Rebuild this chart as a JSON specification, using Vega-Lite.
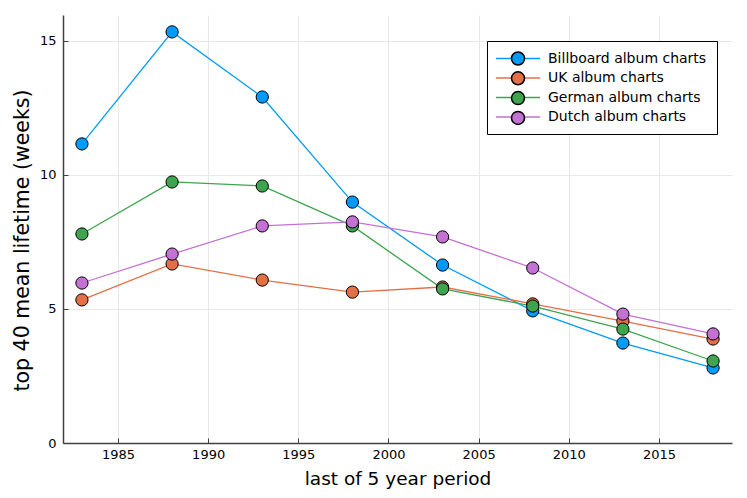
{
  "$schema": "https://vega.github.io/schema/vega-lite/v6.json",
  "width": 669,
  "height": 428,
  "autosize": {"type": "none"},
  "padding": {"left": 63, "top": 15, "right": 15, "bottom": 55},
  "background": "white",
  "config": {
    "view": {"stroke": null},
    "font": "DejaVu Sans",
    "axis": {
      "domainColor": "#404040",
      "domainWidth": 1.5,
      "tickColor": "#404040",
      "tickSize": -5,
      "tickWidth": 1,
      "gridColor": "#e8e8e8",
      "gridWidth": 1,
      "labelColor": "black",
      "labelFont": "DejaVu Sans",
      "labelFontSize": 13,
      "titleColor": "black",
      "titleFont": "DejaVu Sans",
      "titleFontWeight": "normal"
    }
  },
  "data": {
    "values": [
      {"year": 1983, "chart": "Billboard album charts", "weeks": 11.16},
      {"year": 1988, "chart": "Billboard album charts", "weeks": 15.34},
      {"year": 1993, "chart": "Billboard album charts", "weeks": 12.91},
      {"year": 1998, "chart": "Billboard album charts", "weeks": 8.99},
      {"year": 2003, "chart": "Billboard album charts", "weeks": 6.64},
      {"year": 2008, "chart": "Billboard album charts", "weeks": 4.93},
      {"year": 2013, "chart": "Billboard album charts", "weeks": 3.73},
      {"year": 2018, "chart": "Billboard album charts", "weeks": 2.8},
      {"year": 1983, "chart": "UK album charts", "weeks": 5.34},
      {"year": 1988, "chart": "UK album charts", "weeks": 6.68},
      {"year": 1993, "chart": "UK album charts", "weeks": 6.08},
      {"year": 1998, "chart": "UK album charts", "weeks": 5.63},
      {"year": 2003, "chart": "UK album charts", "weeks": 5.82},
      {"year": 2008, "chart": "UK album charts", "weeks": 5.19},
      {"year": 2013, "chart": "UK album charts", "weeks": 4.55},
      {"year": 2018, "chart": "UK album charts", "weeks": 3.88},
      {"year": 1983, "chart": "German album charts", "weeks": 7.8},
      {"year": 1988, "chart": "German album charts", "weeks": 9.74},
      {"year": 1993, "chart": "German album charts", "weeks": 9.59},
      {"year": 1998, "chart": "German album charts", "weeks": 8.1},
      {"year": 2003, "chart": "German album charts", "weeks": 5.75},
      {"year": 2008, "chart": "German album charts", "weeks": 5.11},
      {"year": 2013, "chart": "German album charts", "weeks": 4.25},
      {"year": 2018, "chart": "German album charts", "weeks": 3.06},
      {"year": 1983, "chart": "Dutch album charts", "weeks": 5.97},
      {"year": 1988, "chart": "Dutch album charts", "weeks": 7.05},
      {"year": 1993, "chart": "Dutch album charts", "weeks": 8.1},
      {"year": 1998, "chart": "Dutch album charts", "weeks": 8.25},
      {"year": 2003, "chart": "Dutch album charts", "weeks": 7.69},
      {"year": 2008, "chart": "Dutch album charts", "weeks": 6.53},
      {"year": 2013, "chart": "Dutch album charts", "weeks": 4.81},
      {"year": 2018, "chart": "Dutch album charts", "weeks": 4.07}
    ]
  },
  "encoding": {
    "x": {
      "field": "year",
      "type": "quantitative",
      "scale": {"domain": [1981.95, 2019.05], "nice": false, "zero": false},
      "axis": {"values": [1985, 1990, 1995, 2000, 2005, 2010, 2015], "format": "d", "title": "last of 5 year period", "titleFontSize": 18.5, "labelPadding": 10.5, "titlePadding": 7.5}
    },
    "y": {
      "field": "weeks",
      "type": "quantitative",
      "scale": {"domain": [0, 15.97], "nice": false},
      "axis": {"values": [0, 5, 10, 15], "title": "top 40 mean lifetime (weeks)", "titleFontSize": 20.5, "labelPadding": 12, "titlePadding": 7, "titleY": 225}
    }
  },
  "layer": [
    {
      "mark": {"type": "line", "strokeWidth": 1.3},
      "encoding": {
        "color": {
          "field": "chart",
          "type": "nominal",
          "scale": {
            "domain": ["Billboard album charts", "UK album charts", "German album charts", "Dutch album charts"],
            "range": ["#009AFA", "#E36F47", "#3EA44E", "#C371D2"]
          },
          "legend": {
            "title": null,
            "orient": "none",
            "legendX": 424,
            "legendY": 26,
            "symbolType": "M-3.4,0H3.4",
            "symbolSize": 169,
            "symbolStrokeWidth": 1.5,
            "symbolOffset": 13.5,
            "labelFontSize": 14,
            "labelFont": "DejaVu Sans",
            "labelColor": "black",
            "strokeColor": "black",
            "fillColor": "white",
            "padding": 10,
            "rowPadding": 4.5,
            "labelOffset": 22.5,
            "zindex": 0
          }
        }
      }
    },
    {
      "mark": {"type": "point", "filled": true, "stroke": "black", "strokeWidth": 1, "size": 150, "opacity": 1},
      "encoding": {
        "color": {
          "field": "chart",
          "type": "nominal",
          "scale": {
            "domain": ["Billboard album charts", "UK album charts", "German album charts", "Dutch album charts"],
            "range": ["#009AFA", "#E36F47", "#3EA44E", "#C371D2"]
          },
          "legend": {
            "title": null,
            "orient": "none",
            "legendX": 424,
            "legendY": 26,
            "symbolType": "circle",
            "symbolSize": 169,
            "symbolStrokeColor": "black",
            "symbolStrokeWidth": 1.5,
            "symbolOpacity": 1,
            "symbolOffset": 13.5,
            "labelFontSize": 14,
            "labelFont": "DejaVu Sans",
            "labelExpr": "''",
            "padding": 10,
            "rowPadding": 0.8,
            "labelOffset": 22.5,
            "zindex": 1
          }
        }
      }
    }
  ],
  "resolve": {"scale": {"color": "independent"}, "legend": {"color": "independent"}}
}
